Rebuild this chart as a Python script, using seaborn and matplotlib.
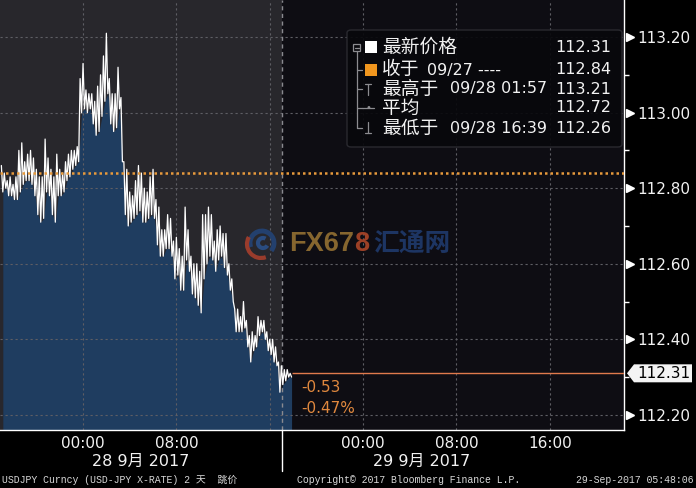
"""
USDJPY 2-day tick chart, Bloomberg style (dark theme).
"""

import matplotlib
matplotlib.use("Agg")
import matplotlib.pyplot as plt
import matplotlib.transforms as mtransforms
from matplotlib.patches import FancyBboxPatch, Rectangle, Polygon, Arc
from matplotlib.lines import Line2D
import numpy as np
import pandas as pd
import seaborn as sns


# 15-minute bars from 27 Sep 17:00
bar_start = "2017-09-27 17:00"
bar_highs = [
    112.86, 112.84, 112.82, 112.83, 112.81, 112.83, 112.90, 112.92, 112.87, 112.89,
    112.90, 112.88, 112.85, 112.83, 112.83, 112.93, 112.88, 112.85, 112.83, 112.89,
    112.85, 112.84, 112.87, 112.89, 112.90, 112.90, 112.91, 113.09, 113.13, 113.06,
    113.05, 113.05, 113.03, 113.07, 113.10, 113.15, 113.21, 113.09, 113.05, 113.05,
    113.12, 113.04, 112.87, 112.85, 112.79, 112.78, 112.82, 112.86, 112.84, 112.80,
    112.79, 112.83, 112.85, 112.77, 112.75, 112.69, 112.69, 112.73, 112.72, 112.66,
    112.67, 112.64, 112.62, 112.75, 112.69, 112.62, 112.60, 112.60, 112.58, 112.73,
    112.73, 112.75, 112.73, 112.66, 112.69, 112.70, 112.68, 112.68, 112.60, 112.56,
    112.48, 112.48, 112.46, 112.50, 112.45, 112.41, 112.42, 112.41, 112.46, 112.45,
    112.45, 112.42, 112.40, 112.40, 112.38, 112.34, 112.33, 112.32, 112.32, 112.31,
]
bar_lows = [
    112.79, 112.80, 112.78, 112.78, 112.77, 112.77, 112.79, 112.81, 112.82, 112.82,
    112.81, 112.78, 112.73, 112.71, 112.72, 112.79, 112.78, 112.73, 112.71, 112.78,
    112.78, 112.79, 112.82, 112.83, 112.85, 112.86, 112.87, 113.00, 113.01, 113.00,
    113.01, 112.97, 112.94, 112.95, 112.99, 113.03, 113.05, 112.97, 112.95, 112.96,
    113.01, 112.87, 112.73, 112.70, 112.71, 112.72, 112.73, 112.74, 112.71, 112.71,
    112.72, 112.73, 112.72, 112.65, 112.62, 112.62, 112.64, 112.64, 112.62, 112.56,
    112.57, 112.53, 112.53, 112.61, 112.58, 112.52, 112.51, 112.49, 112.47, 112.56,
    112.60, 112.62, 112.61, 112.58, 112.61, 112.62, 112.59, 112.57, 112.53, 112.50,
    112.42, 112.42, 112.42, 112.43, 112.38, 112.34, 112.37, 112.38, 112.41, 112.42,
    112.40, 112.37, 112.36, 112.34, 112.33, 112.26, 112.28, 112.29, 112.30, 112.30,
]

prev_close = 112.84
last_price = 112.31
day_high = 113.21
day_low = 112.26
day_avg = 112.72
net_change = "-0.53"
pct_change = "-0.47%"

y_ticks = [112.20, 112.40, 112.60, 112.80, 113.00, 113.20]
y_minor = [112.30, 112.50, 112.70, 112.90, 113.10]
x_labels = ["00:00", "08:00", "00:00", "08:00", "16:00"]
x_label_times = ["2017-09-28 00:00", "2017-09-28 08:00", "2017-09-29 00:00",
                 "2017-09-29 08:00", "2017-09-29 16:00"]
x_grid_times = ["2017-09-28 00:00", "2017-09-28 08:00", "2017-09-28 16:00",
                "2017-09-29 00:00", "2017-09-29 08:00", "2017-09-29 16:00"]
x_minor_times = ["2017-09-27 20:00", "2017-09-28 04:00", "2017-09-28 12:00",
                 "2017-09-28 16:00", "2017-09-28 20:00", "2017-09-29 04:00",
                 "2017-09-29 12:00"]
day_labels = ["28 9月 2017", "29 9月 2017"]
session_break = "2017-09-28 17:04"
x_range = ("2017-09-27 16:53", "2017-09-29 22:22")
y_range = (112.16, 113.298)

legend_rows = [("最新价格", "", last_price), ("收于", "09/27 ----", prev_close),
               ("最高于", "09/28 01:57", day_high), ("平均", "", day_avg),
               ("最低于", "09/28 16:39", day_low)]

W, H = 696, 488
BG_OLD = "#28272c"
BG_NEW = "#0e0d13"
GRID = "#5e5e64"
FILL = "#1f3d60"
ORANGE = "#e89a3c"
SALMON = "#e07a4c"

sns.set_theme(style="dark")
plt.rcParams["font.family"] = ["DejaVu Sans", "Noto Sans CJK SC"]
CJK = ["Noto Sans CJK SC", "DejaVu Sans"]
MONO = ["Liberation Mono", "Noto Sans CJK SC"]


def fpos(x, y):
    """Pixel position (from top-left) to figure fraction."""
    return x / W, 1 - y / H


times = pd.date_range(bar_start, periods=len(bar_highs), freq="15min")
half = pd.Timedelta("7min30s")
rows = []
for t, hi, lo in zip(times, bar_highs, bar_lows):
    rows.append((t, hi))
    rows.append((t + half, lo))
ticks = pd.DataFrame(rows, columns=["time", "price"])

fig = plt.figure(figsize=(W / 100, H / 100), dpi=100, facecolor="black")
ax = fig.add_axes([0, 1 - 430 / H, 624 / W, 430 / H])
ax.set_facecolor(BG_NEW)

x0, x1 = pd.Timestamp(x_range[0]), pd.Timestamp(x_range[1])
brk = pd.Timestamp(session_break)
ax.axvspan(x0, brk, color=BG_OLD, lw=0, zorder=0)

# area under the lows
ax.fill_between(times + half, bar_lows, y_range[0], color=FILL, lw=0, zorder=1)

# grid
for yv in y_ticks:
    ax.axhline(yv, color=GRID, lw=0.8, ls=(0, (2, 2.5)), zorder=1.5)
for tv in x_grid_times:
    ax.axvline(pd.Timestamp(tv), color=GRID, lw=0.8, ls=(0, (2, 2.5)), zorder=1.5)
ax.axvline(brk, color="#8a8a90", lw=1, ls=(0, (3, 2.5)), zorder=1.6)

# tick series
sns.lineplot(data=ticks, x="time", y="price", color="white", linewidth=0.9,
             estimator=None, sort=False, ax=ax, zorder=3)

ax.axhline(prev_close, color=ORANGE, lw=1.8, ls=(0, (1, 1.2)), zorder=4)
ax.hlines(last_price, times[-1] + half, x1, color=SALMON, lw=1, zorder=4)
ax.annotate(net_change, xy=(times[-1] + half, last_price), xytext=(7, -10),
            textcoords="offset points", color="#e0883e", fontsize=11,
            ha="left", va="center", zorder=5)
ax.annotate(pct_change, xy=(times[-1] + half, last_price), xytext=(7, -25),
            textcoords="offset points", color="#e0883e", fontsize=11,
            ha="left", va="center", zorder=5)

ax.set_xlim(x0, x1)
ax.set_ylim(*y_range)
ax.set_xlabel("")
ax.set_ylabel("")

# axes styling
for side in ("top", "left"):
    ax.spines[side].set_visible(False)
for side in ("right", "bottom"):
    ax.spines[side].set_visible(True)
    ax.spines[side].set_color("white")
    ax.spines[side].set_linewidth(1)

ax.yaxis.tick_right()
ax.set_yticks(y_ticks)
ax.set_yticklabels([f"{v:.2f}" for v in y_ticks])
ax.set_yticks(y_minor, minor=True)
ax.tick_params(axis="y", which="major", length=0, pad=9.5, labelsize=11,
               labelcolor="#f2f2f2")
ax.tick_params(axis="y", which="minor", length=3.6, width=1, color="white",
               direction="out")
ax.set_xticks([pd.Timestamp(t) for t in x_label_times])
ax.set_xticklabels(x_labels)
ax.set_xticks([pd.Timestamp(t) for t in x_minor_times], minor=True)
ax.tick_params(axis="x", which="major", length=0, pad=4, labelsize=11,
               labelcolor="#f2f2f2")
ax.tick_params(axis="x", which="minor", length=3.6, width=1, color="white",
               direction="out")
ax.grid(False)

# triangles beside the price labels
tri_tr = mtransforms.blended_transform_factory(ax.transAxes, ax.transData) + \
    mtransforms.ScaledTranslation(6 / 100, 0, fig.dpi_scale_trans)
ax.plot([1.0] * len(y_ticks), y_ticks, transform=tri_tr, ls="none", marker=">",
        ms=5.5, color="white", mec="white", clip_on=False, zorder=6)

# last-price tag
fig.canvas.draw()
y_last = ax.transData.transform((0, last_price))[1]
tag = [(627, y_last), (634, y_last + 9), (692, y_last + 9), (692, y_last - 9),
       (634, y_last - 9)]
fig.add_artist(Polygon(tag, closed=True, facecolor="#f4f4f4", edgecolor="none",
                       transform=mtransforms.IdentityTransform()))
fig.text(637 / W, y_last / H, f"{last_price:.2f}", color="black", fontsize=11,
         ha="left", va="center")

# session divider below the axis and day labels
fig.add_artist(Line2D([282 / W, 282 / W], [1 - 430 / H, 1 - 471 / H],
                      color="white", lw=1, transform=fig.transFigure))
for label, xc in zip(day_labels, (141, 422)):
    fig.text(*fpos(xc, 461), label, color="#f2f2f2", fontsize=11.5,
             ha="center", va="center")

# legend box
lx, ly = fpos(347, 147)
fig.add_artist(FancyBboxPatch((lx, ly), 275 / W, 117 / H,
                              boxstyle="round,pad=0,rounding_size=0.006",
                              facecolor="#08080c", edgecolor="#2c2c32", lw=1,
                              alpha=0.92, transform=fig.transFigure))
row_y = [47, 70, 89, 108, 128]
latin_x = [None, 427, 450, None, 450]
for (cjk, latin, val), ry, lxp in zip(legend_rows, row_y, latin_x):
    fig.text(*fpos(382, ry), cjk, color="#f2f2f2", fontsize=13.5, family=CJK,
             ha="left", va="center")
    if latin:
        fig.text(*fpos(lxp, ry), latin, color="#f2f2f2", fontsize=11.5,
                 ha="left", va="center")
    fig.text(*fpos(611, ry), f"{val:.2f}", color="#f2f2f2", fontsize=11.5,
             ha="right", va="center")

sq = 12
for ry, col in zip(row_y[:2], ("white", "#f0961e")):
    x, y = fpos(365, ry + sq / 2)
    fig.add_artist(Rectangle((x, y), sq / W, sq / H, facecolor=col,
                             edgecolor="none", transform=fig.transFigure))

tree = "#8c8c90"
def seg(xa, ya, xb, yb):
    fig.add_artist(Line2D([xa / W, xb / W], [1 - ya / H, 1 - yb / H], color=tree,
                          lw=0.9, transform=fig.transFigure))

fig.add_artist(Rectangle(fpos(353, 51), 7 / W, 7 / H, facecolor="none",
                         edgecolor=tree, lw=0.9, transform=fig.transFigure))
seg(354.5, 47.5, 358.5, 47.5)
seg(356.5, 51, 356.5, 128)
for ry in row_y[1:]:
    seg(356.5, ry, 362, ry)
seg(368, 84, 368, 95)
seg(365, 84, 371, 84)
seg(362, 108, 374, 108)
fig.text(*fpos(368, 108), "•", color=tree, fontsize=7, ha="center", va="center")
seg(368, 122, 368, 133)
seg(365, 133, 371, 133)

# watermark
wm = mtransforms.IdentityTransform()
cx, cy = 262, H - 243
fig.add_artist(Arc((cx, cy), 24, 24, theta1=-40, theta2=200, color="#23406e",
                   lw=3.5, transform=wm))
fig.add_artist(Arc((cx - 1, cy - 1), 28, 28, theta1=150, theta2=290,
                   color="#9a3c2c", lw=3, transform=wm))
fig.add_artist(Arc((cx + 1, cy), 10, 10, theta1=60, theta2=330,
                   color="#2a4c80", lw=3, transform=wm))
wm_font = dict(fontsize=19.5, fontweight="bold",
               family=["Liberation Sans Narrow", "Liberation Sans"])
t_fx = fig.text(*fpos(289, 244), "FX67", color="#86662f", ha="left",
                va="center", **wm_font)
renderer = fig.canvas.get_renderer()
fx_end = t_fx.get_window_extent(renderer).x1
fig.text(fx_end / W, 1 - 244 / H, "8", color="#9c4026", ha="left",
         va="center", **wm_font)
fig.text(*fpos(373, 243), "汇通网", color="#1d3563", fontsize=18.5,
         fontweight="bold", family=CJK, ha="left", va="center")

# footer
fig.text(*fpos(2, 480), "USDJPY Curncy (USD-JPY X-RATE) 2 天  跳价",
         color="#d8d8d8", fontsize=7.1, family=MONO, ha="left", va="center")
fig.text(*fpos(297, 480), "Copyright© 2017 Bloomberg Finance L.P.",
         color="#d8d8d8", fontsize=7.1, family=MONO, ha="left", va="center")
fig.text(*fpos(694, 480), "29-Sep-2017 05:48:06",
         color="#d8d8d8", fontsize=7.1, family=MONO, ha="right", va="center")

fig.savefig("out.png", dpi=100, facecolor="black")
plt.close(fig)
